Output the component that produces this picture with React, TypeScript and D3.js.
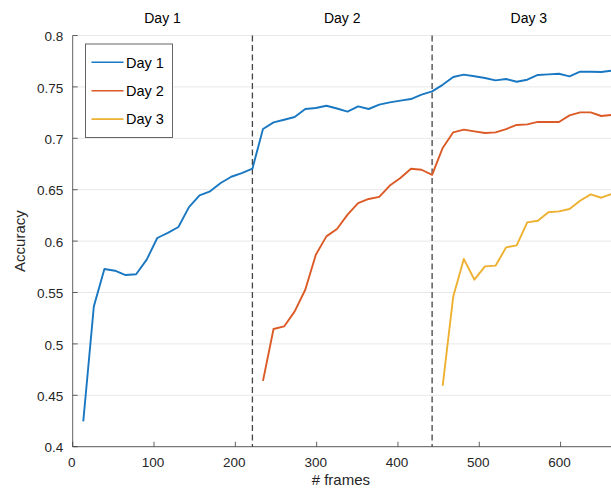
import { useEffect, useRef } from 'react'
import * as d3 from 'd3'

// frames per recorded step, and day boundaries (in frames)
const STEP = 13
const DAY_BOUNDS = [221, 442]
const DAY_TITLES = ['Day 1', 'Day 2', 'Day 3']
const TITLE_POS = [110.5, 331.5, 561]

const X_TICKS = [0, 100, 200, 300, 400, 500, 600]
const Y_TICKS = [0.4, 0.45, 0.5, 0.55, 0.6, 0.65, 0.7, 0.75, 0.8]

// accuracy per step
const day1Acc = [
  0.4246, 0.5365, 0.5729, 0.5712, 0.567, 0.5677, 0.582, 0.603, 0.608, 0.6137,
  0.633, 0.6445, 0.6484, 0.6565, 0.6626, 0.6662, 0.6704,
  0.709, 0.7155, 0.718, 0.7207, 0.7285, 0.7295, 0.7317, 0.729, 0.726,
  0.731, 0.7285, 0.7327, 0.735, 0.7366, 0.7382, 0.7424, 0.7456,
  0.752, 0.7596, 0.7619, 0.7603, 0.7587, 0.7563, 0.7577, 0.755, 0.757,
  0.7616, 0.7622, 0.7628, 0.7603, 0.7648, 0.7648, 0.7645, 0.7658,
]
const day2Acc = [
  0.464, 0.5145, 0.517, 0.5316, 0.5527, 0.5868, 0.6046, 0.6118, 0.6257,
  0.637, 0.641, 0.643, 0.654, 0.6614, 0.6704, 0.6694, 0.6645,
  0.6906, 0.7058, 0.7084, 0.7067, 0.7051, 0.7058, 0.709, 0.713, 0.7135,
  0.716, 0.7158, 0.7158, 0.7223, 0.7252, 0.7252, 0.7217, 0.7227,
]
const day3Acc = [
  0.4593, 0.5462, 0.5826, 0.5625, 0.5754, 0.5761, 0.5939, 0.5958, 0.6182,
  0.6198, 0.628, 0.6289, 0.6312, 0.6393, 0.6454, 0.6422, 0.6458,
]

const SERIES = [
  { name: 'Day 1', start: 1, values: day1Acc, color: '#1a78c2' },
  { name: 'Day 2', start: 18, values: day2Acc, color: '#dc5a26' },
  { name: 'Day 3', start: 35, values: day3Acc, color: '#eeb030' },
]

const W = 611
const H = 489
const M = { top: 35.5, right: 0, bottom: 42.3, left: 72.7 }
const FONT = '"Liberation Sans", Arial, Helvetica, sans-serif'
const TXT = '#262626'

export default function App() {
  const ref = useRef<SVGSVGElement>(null)

  useEffect(() => {
    if (!ref.current) return
    const svg = d3.select(ref.current)
    svg.selectAll('*').remove()

    const x = d3.scaleLinear().domain([0, 662]).range([M.left, W - M.right])
    const y = d3.scaleLinear().domain([0.4, 0.8]).range([H - M.bottom, M.top])
    const [y0, y1] = y.range()

    svg.append('defs').append('clipPath').attr('id', 'plot-clip')
      .append('rect')
      .attr('x', M.left).attr('y', M.top - 3)
      .attr('width', W - M.left).attr('height', y0 - M.top + 6)

    // grid
    svg.append('g')
      .selectAll('line')
      .data(Y_TICKS)
      .join('line')
      .attr('x1', M.left).attr('x2', W)
      .attr('y1', d => y(d)).attr('y2', d => y(d))
      .attr('stroke', '#e8e8e8').attr('stroke-width', 1)

    // axes
    const ax = svg.append('g').attr('stroke', '#3a3a3a').attr('stroke-width', 0.8)
    ax.append('line').attr('x1', M.left).attr('x2', W).attr('y1', y0).attr('y2', y0)
    ax.append('line').attr('x1', M.left).attr('x2', M.left).attr('y1', y0).attr('y2', y1)
    ax.selectAll('line.xt').data(X_TICKS).join('line').attr('class', 'xt')
      .attr('x1', d => x(d)).attr('x2', d => x(d)).attr('y1', y0).attr('y2', y0 - 5)
    ax.selectAll('line.yt').data(Y_TICKS).join('line').attr('class', 'yt')
      .attr('x1', M.left).attr('x2', M.left + 5).attr('y1', d => y(d)).attr('y2', d => y(d))

    svg.append('g')
      .selectAll('text')
      .data(X_TICKS)
      .join('text')
      .attr('x', d => x(d) - 1).attr('y', y0 + 20.5)
      .attr('text-anchor', 'middle')
      .attr('font-family', FONT).attr('font-size', 13.5).attr('fill', TXT)
      .text(d => d)

    svg.append('g')
      .selectAll('text')
      .data(Y_TICKS)
      .join('text')
      .attr('x', M.left - 9.5).attr('y', d => y(d) + 1).attr('dy', '0.35em')
      .attr('text-anchor', 'end')
      .attr('font-family', FONT).attr('font-size', 13.5).attr('fill', TXT)
      .text(d => d3.format('')(+d.toFixed(2)))

    svg.append('text')
      .attr('x', (M.left + W) / 2 - 1).attr('y', H - 4)
      .attr('text-anchor', 'middle')
      .attr('font-family', FONT).attr('font-size', 15).attr('fill', TXT)
      .text('# frames')

    svg.append('text')
      .attr('transform', `translate(25,${(y0 + y1) / 2}) rotate(-90)`)
      .attr('text-anchor', 'middle')
      .attr('font-family', FONT).attr('font-size', 15).attr('fill', TXT)
      .text('Accuracy')

    // day boundaries
    svg.append('g')
      .selectAll('line')
      .data(DAY_BOUNDS)
      .join('line')
      .attr('x1', d => x(d)).attr('x2', d => x(d))
      .attr('y1', y1).attr('y2', y0)
      .attr('stroke', '#444').attr('stroke-width', 1.3)
      .attr('stroke-dasharray', '6,3.5')

    svg.append('g')
      .selectAll('text')
      .data(DAY_TITLES)
      .join('text')
      .attr('x', (_d, i) => x(TITLE_POS[i])).attr('y', 23)
      .attr('text-anchor', 'middle')
      .attr('font-family', FONT).attr('font-size', 14).attr('fill', '#000')
      .text(d => d)

    // series
    const line = d3.line<number>()
    const lines = svg.append('g').attr('clip-path', 'url(#plot-clip)')
    SERIES.forEach(s => {
      lines.append('path')
        .attr('d', line(s.values.map((v, i) => [x((s.start + i) * STEP), y(v)] as [number, number])))
        .attr('fill', 'none')
        .attr('stroke', s.color)
        .attr('stroke-width', 1.9)
        .attr('stroke-linejoin', 'round')
    })

    // legend
    const lg = svg.append('g').attr('transform', 'translate(85.5,44)')
    lg.append('rect')
      .attr('width', 87).attr('height', 93.5)
      .attr('fill', '#fff').attr('stroke', '#555').attr('stroke-width', 0.9)
    SERIES.forEach((s, i) => {
      const cy = 18.3 + i * 28.4
      lg.append('line')
        .attr('x1', 6).attr('x2', 38).attr('y1', cy).attr('y2', cy)
        .attr('stroke', s.color).attr('stroke-width', 1.6)
      lg.append('text')
        .attr('x', 40.5).attr('y', cy).attr('dy', '0.36em')
        .attr('font-family', FONT).attr('font-size', 14.5).attr('fill', '#000')
        .text(s.name)
    })
  }, [])

  return (
    <div style={{ position: 'fixed', left: 0, top: 0 }}>
      <svg ref={ref} width={W} height={H} style={{ display: 'block', background: '#fff' }} />
    </div>
  )
}
